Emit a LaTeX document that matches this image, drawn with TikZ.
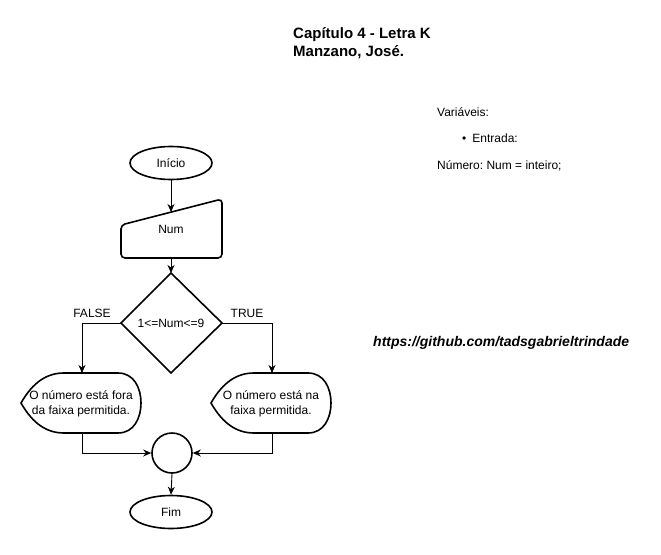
\documentclass[tikz,border=0pt]{standalone}
\usepackage{fontspec}
\setmainfont{Liberation Sans}
\usetikzlibrary{arrows.meta,shapes.geometric}
\frenchspacing
\begin{document}
\begin{tikzpicture}[x=1pt,y=-1pt,
  shp/.style={draw=black,line width=1.6pt},
  conn/.style={draw=black,line width=0.9pt,-{Stealth[length=8pt,width=7pt,inset=2.5pt]}},
  txt/.style={font=\fontsize{12}{15}\selectfont,align=center,inner sep=0pt},
  lbl/.style={font=\fontsize{12}{14}\selectfont,inner sep=0pt}]
\useasboundingbox[fill=white] (0,0) rectangle (661,554);

% Inicio
\node[shp,ellipse,minimum width=82pt,minimum height=33pt,inner sep=0pt] (ini) at (171,163) {};
\node[txt] at (ini) {Início};

% Manual input
\draw[shp,rounded corners=4pt] (121,225) -- (222,199) -- (222,258) -- (121,258) -- cycle;
\coordinate (numtop) at (171,212);
\coordinate (numbot) at (171,258);
\node[txt] (num) at (171,229) {Num};

% Decision
\draw[shp] (171,273) -- (222,323) -- (171,373) -- (121,323) -- cycle;
\coordinate (dtop) at (171,273);
\coordinate (dleft) at (121,323);
\coordinate (dright) at (222,323);
\node[txt] (dec) at (171,323) {1<=Num<=9};
\node[lbl] (false) at (92,313) {FALSE};
\node[lbl] (true) at (247,313) {TRUE};

% Display shapes
\draw[shp] (21,403) .. controls (33,382) and (47,373) .. (64,373) -- (118,373)
  .. controls (134,373) and (141,388) .. (141,403)
  .. controls (141,418) and (134,433) .. (118,433) -- (64,433)
  .. controls (47,433) and (33,424) .. cycle;
\coordinate (d1top) at (82,373);
\coordinate (d1bot) at (82,433);
\node[txt] (d1) at (81,404) {O número está fora\\da faixa permitida.};

\draw[shp] (211,403) .. controls (223,382) and (237,373) .. (254,373) -- (308,373)
  .. controls (324,373) and (331,388) .. (331,403)
  .. controls (331,418) and (324,433) .. (308,433) -- (254,433)
  .. controls (237,433) and (223,424) .. cycle;
\coordinate (d2top) at (272,373);
\coordinate (d2bot) at (272,433);
\node[txt] (d2) at (271,404) {O número está na\\faixa permitida.};

% Connector circle
\node[shp,circle,minimum size=40pt,inner sep=0pt] (con) at (172,453) {};

% Fim
\node[shp,ellipse,minimum width=82pt,minimum height=33pt,inner sep=0pt] (fim) at (171,512) {};
\node[txt] at (fim) {Fim};

% Connectors
\draw[conn] (ini.south) -- (numtop);
\draw[conn] (numbot) -- (dtop);
\draw[conn] (dleft) -| (d1top);
\draw[conn] (dright) -| (d2top);
\draw[conn] (d1bot) |- (con.west);
\draw[conn] (d2bot) |- (con.east);
\draw[conn] (con.south) -- (fim.north);

% Texts
\node[anchor=west,inner sep=0pt,font=\fontsize{15}{18}\selectfont\bfseries,align=left] (title) at (293,43)
  {Capítulo 4 - Letra K\\Manzano, José.};
\node[lbl,anchor=west] (var) at (437,112) {Variáveis:};
\node[lbl,anchor=west] (ent) at (462,138) {\textbullet\hspace{6pt}Entrada:};
\node[lbl,anchor=west] (numv) at (437,166) {Número: Num = inteiro;};
\node[anchor=west,inner sep=0pt,font=\fontsize{14}{16}\selectfont\bfseries\itshape] (url) at (373,343)
  {https://github.com/tadsgabrieltrindade};
\end{tikzpicture}
\end{document}
